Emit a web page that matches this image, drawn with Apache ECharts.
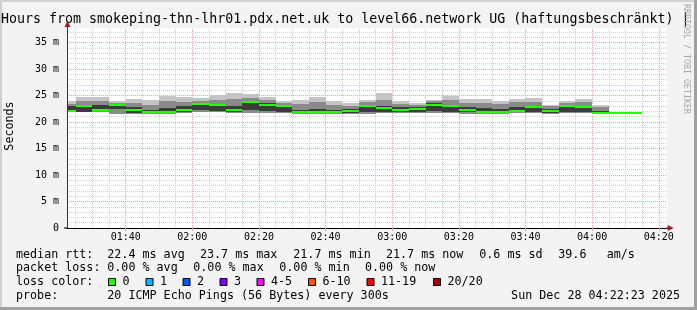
<!DOCTYPE html>
<html><head><meta charset="utf-8">
<script src="https://cdn.jsdelivr.net/npm/echarts@6/dist/echarts.min.js"></script>
<style>html,body{margin:0;padding:0;background:#f3f3f3;overflow:hidden}#c{width:697px;height:310px}</style>
</head><body><div id="c"></div><script>
// ---------- data ----------
const titleText = 'Hours from smokeping-thn-lhr01.pdx.net.uk to level66.network UG (haftungsbeschränkt) |';
const watermark = 'RRDTOOL / TOBI OETIKER';
const yName = 'Seconds';
// minutes since midnight
const xMin = 82 + 23 / 60;   // 01:22:23
const xMax = 262 + 23 / 60;  // 04:22:23
const yMax = 37.74;          // ms
const xTickValues = [100, 120, 140, 160, 180, 200, 220, 240, 260];
const xMinorGrid = [85, 90, 95, 105, 110, 115, 125, 130, 135, 145, 150, 155, 165, 170, 175, 185, 190, 195, 205, 210, 215, 225, 230, 235, 245, 250, 255];
const yTickValues = [0, 5, 10, 15, 20, 25, 30, 35];
const yMajorGrid = [5, 10, 15, 20, 25, 30, 35];
const yMinorGrid = [1, 2, 3, 4, 6, 7, 8, 9, 11, 12, 13, 14, 16, 17, 18, 19, 21, 22, 23, 24, 26, 27, 28, 29, 31, 32, 33, 34, 36, 37];

const stepMin = 5;
const segEnd = [85, 90, 95, 100, 105, 110, 115, 120, 125, 130, 135, 140, 145, 150, 155, 160, 165, 170, 175, 180, 185, 190, 195, 200, 205, 210, 215, 220, 225, 230, 235, 240, 245, 250, 255];
const medianMs = [22.0, 23.0, 22.2, 23.2, 22.2, 21.8, 21.8, 22.2, 23.4, 23.2, 22.2, 23.7, 23.2, 23.0, 21.8, 21.8, 21.8, 22.0, 23.0, 22.7, 22.2, 22.4, 23.2, 23.0, 22.2, 21.8, 21.8, 22.0, 22.8, 22.0, 23.0, 22.8, 21.7, 21.7, 21.7];
const smokeMin = [21.8, 21.8, 21.8, 21.6, 21.6, 21.6, 21.6, 21.7, 21.8, 21.8, 21.7, 21.7, 21.7, 21.7, 21.6, 21.6, 21.6, 21.6, 21.6, 21.7, 21.7, 21.7, 21.7, 21.7, 21.6, 21.6, 21.6, 21.7, 21.7, 21.6, 21.7, 21.7, 21.7, null, null];
const smokeQ1  = [22.0, 21.9, 22.0, 22.4, 21.7, 21.7, 21.7, 21.9, 22.2, 22.0, 21.9, 22.3, 22.0, 21.9, 21.7, 21.7, 21.7, 21.7, 21.9, 21.9, 21.8, 21.9, 22.0, 21.9, 21.8, 21.7, 21.7, 21.8, 21.9, 21.7, 21.9, 21.9, 21.7, null, null];
const smokeQ3  = [23.0, 23.2, 23.3, 23.3, 22.9, 22.3, 22.6, 23.0, 23.6, 23.4, 23.0, 23.9, 23.5, 23.2, 22.3, 22.5, 22.2, 22.4, 23.3, 23.0, 22.8, 22.9, 23.5, 23.3, 22.9, 22.6, 22.5, 22.8, 23.0, 22.4, 23.3, 23.1, 22.0, null, null];
const smokeP80 = [23.4, 24.0, 24.0, 23.6, 23.6, 23.2, 23.9, 23.8, 24.0, 24.2, 24.4, 24.6, 24.2, 23.6, 23.4, 23.8, 23.2, 23.0, 23.8, 24.2, 23.4, 23.3, 23.9, 24.2, 23.6, 23.6, 23.4, 23.8, 23.7, 23.0, 23.6, 23.8, 22.9, null, null];
const smokeMax = [24.0, 24.75, 24.75, 24.0, 24.3, 24.2, 24.9, 24.75, 24.6, 25.1, 25.5, 25.25, 24.75, 23.9, 24.2, 24.75, 23.9, 23.6, 24.2, 25.5, 23.9, 23.6, 24.2, 25.0, 24.25, 24.4, 23.9, 24.4, 24.6, 23.3, 23.9, 24.4, 23.3, null, null];

const rttHead = 'median rtt:';
const rttStats = ['22.4 ms avg', '23.7 ms max', '21.7 ms min', '21.7 ms now', '0.6 ms sd', '39.6', 'am/s'];
const lossHead = 'packet loss:';
const lossStats = ['0.00 % avg', '0.00 % max', '0.00 % min', '0.00 % now'];
const lossColorHead = 'loss color:';
const lossLabels = ['0', '1', '2', '3', '4-5', '6-10', '11-19', '20/20'];
const lossColors = ['#26ff00', '#00b8ff', '#0059ff', '#7e00ff', '#ff00ff', '#ff5500', '#ff0000', '#a10000'];
const probeHead = 'probe:';
const probeText = '20 ICMP Echo Pings (56 Bytes) every 300s';
const dateText = 'Sun Dec 28 04:22:23 2025';

// ---------- layout / style ----------
const MONO = 'DejaVu Sans Mono';
const legendFont = 11.7;
const rttX = [107.3, 200, 293.3, 386, 479.3, 558.3, 606.7];
const lossX = [107.3, 193.3, 279.3, 365];
const boxX = [108, 145.5, 182.5, 219.5, 256.5, 308, 366.5, 433];
const rowY = [254.5, 268, 282, 296];

function fmtTime(v) {
  const h = Math.floor(v / 60), m = Math.round(v % 60);
  return String(h).padStart(2, '0') + ':' + String(m).padStart(2, '0');
}

const smokeData = [];
const medianData = [];
segEnd.forEach((t, i) => {
  if (smokeMin[i] != null) smokeData.push([t - stepMin, t, smokeMin[i], smokeQ1[i], smokeQ3[i], smokeP80[i], smokeMax[i]]);
  medianData.push([t - stepMin, t, medianMs[i]]);
});

function xSpan(params, api) {
  const cs = params.coordSys;
  let xa = api.coord([api.value(0), 0])[0];
  let xb = api.coord([api.value(1), 0])[0];
  xa = Math.round(Math.max(xa, cs.x));
  xb = Math.round(Math.min(xb, cs.x + cs.width));
  return [xa, xb];
}
function renderSmoke(params, api) {
  const [xa, xb] = xSpan(params, api);
  const t = api.value(0);
  const band = (lo, hi, fill) => {
    const ya = Math.round(api.coord([t, hi])[1]);
    const yb = Math.round(api.coord([t, lo])[1]);
    return { type: 'rect', shape: { x: xa, y: ya, width: xb - xa, height: yb - ya }, style: { fill } };
  };
  return { type: 'group', children: [
    band(api.value(2), api.value(6), '#c4c4c4'),
    band(api.value(2), api.value(5), '#8a8a8a'),
    band(api.value(3), api.value(4), '#3c3c3c')
  ] };
}
function renderMedian(params, api) {
  const [xa, xb] = xSpan(params, api);
  const y = Math.round(api.coord([api.value(0), api.value(2)])[1]);
  return { type: 'rect', shape: { x: xa, y: y - 1, width: xb - xa, height: 2 }, style: { fill: lossColors[0] } };
}

const minorStyle = { color: '#d0d0d0', width: 1, type: [1, 1] };
const majorStyle = { color: '#f2a0a0', width: 1, type: [1, 1] };
const gridLines = []
  .concat(xMinorGrid.map(v => ({ xAxis: v, lineStyle: minorStyle })))
  .concat(yMinorGrid.map(v => ({ yAxis: v, lineStyle: minorStyle })))
  .concat(xTickValues.map(v => ({ xAxis: v, lineStyle: majorStyle })))
  .concat(yMajorGrid.map(v => ({ yAxis: v, lineStyle: majorStyle })));

const txt = (x, y, text, extra) => Object.assign({
  type: 'text', x, y, silent: true,
  style: Object.assign({ text, fill: '#000', font: legendFont + 'px "' + MONO + '"', verticalAlign: 'middle', align: 'left' }, extra || {})
});

const staticGraphics = [
  { type: 'rect', shape: { x: 0, y: 0, width: 697, height: 2 }, style: { fill: '#d0d0d0' }, silent: true },
  { type: 'rect', shape: { x: 0, y: 0, width: 2, height: 310 }, style: { fill: '#d0d0d0' }, silent: true },
  { type: 'rect', shape: { x: 0, y: 307, width: 697, height: 3 }, style: { fill: '#a0a0a0' }, silent: true },
  { type: 'rect', shape: { x: 694, y: 0, width: 3, height: 310 }, style: { fill: '#a0a0a0' }, silent: true },
  txt(1, 19.5, titleText, { font: '13.3px "' + MONO + '"' }),
  { type: 'text', x: 686, y: 4, rotation: -Math.PI / 2, silent: true,
    style: { text: watermark, fill: '#a8a8a8', font: '8.3px "' + MONO + '"', align: 'left', verticalAlign: 'middle' } },
  { type: 'text', x: 10, y: 126, rotation: Math.PI / 2, silent: true,
    style: { text: yName, fill: '#000', font: '11.7px "' + MONO + '"', align: 'center', verticalAlign: 'middle' } },
  txt(16, rowY[0], rttHead),
  txt(16, rowY[1], lossHead),
  txt(16, rowY[2], lossColorHead),
  txt(16, rowY[3], probeHead),
  txt(107.3, rowY[3], probeText),
  txt(680, rowY[3], dateText, { align: 'right' })
];
rttStats.forEach((s, i) => staticGraphics.push(txt(rttX[i], rowY[0], s)));
lossStats.forEach((s, i) => staticGraphics.push(txt(lossX[i], rowY[1], s)));
lossLabels.forEach((s, i) => {
  staticGraphics.push({ type: 'rect', silent: true, shape: { x: boxX[i] + 0.5, y: rowY[2] - 3.5, width: 7, height: 7 },
    style: { fill: lossColors[i], stroke: '#000', lineWidth: 1 } });
  staticGraphics.push(txt(boxX[i] + 14.5, rowY[2], s));
});

const chart = echarts.init(document.getElementById('c'), null, { renderer: 'canvas' });
const option = {
  animation: false,
  backgroundColor: '#f3f3f3',
  grid: { left: 67, right: 30.3, top: 28, bottom: 82, show: true, backgroundColor: '#ffffff', borderWidth: 0 },
  xAxis: {
    type: 'value', min: xMin, max: xMax,
    axisLine: { show: true, onZero: false, lineStyle: { color: '#000', width: 1 } },
    axisTick: { show: true, customValues: xTickValues, length: 3, inside: false, lineStyle: { color: '#f2a0a0' } },
    axisLabel: { customValues: xTickValues, formatter: fmtTime, margin: 4, color: '#000', fontFamily: MONO, fontSize: 10 },
    splitLine: { show: false }
  },
  yAxis: {
    type: 'value', min: 0, max: yMax,
    axisLine: { show: true, onZero: false, lineStyle: { color: '#333', width: 1, type: 'solid' } },
    axisTick: { show: false },
    axisLabel: { customValues: yTickValues, formatter: v => (v === 0 ? '0' : v + ' m'), margin: 8, color: '#000', fontFamily: MONO, fontSize: 10 },
    splitLine: { show: false }
  },
  series: [
    { type: 'line', data: [[xMin, 0]], symbol: 'none', lineStyle: { opacity: 0 }, silent: true, z: 1,
      markLine: { silent: true, symbol: ['none', 'none'], label: { show: false }, animation: false, z: 1, data: gridLines } },
    { type: 'custom', data: smokeData, renderItem: renderSmoke, clip: true, z: 10, silent: true },
    { type: 'custom', data: medianData, renderItem: renderMedian, clip: true, z: 11, silent: true }
  ],
  graphic: staticGraphics
};
chart.setOption(option);

// axis arrows, positioned through the chart's own scales
const pBL = chart.convertToPixel({ gridIndex: 0 }, [xMin, 0]);
const pTR = chart.convertToPixel({ gridIndex: 0 }, [xMax, yMax]);
const ARROW = '#9b1c1c';
const ax = Math.round(pBL[0]) + 0.5;
const arrowGraphics = [
  { type: 'line', silent: true, z: 20, shape: { x1: ax, y1: pBL[1], x2: ax, y2: pTR[1] - 2 }, style: { stroke: '#333', lineWidth: 1 } },
  { type: 'polygon', silent: true, shape: { points: [[ax - 3, pTR[1] - 1], [ax + 3, pTR[1] - 1], [ax, pTR[1] - 7]] }, style: { fill: ARROW } },
  { type: 'line', silent: true, shape: { x1: pTR[0], y1: pBL[1], x2: pTR[0] + 2, y2: pBL[1] }, style: { stroke: '#000', lineWidth: 1 } },
  { type: 'line', silent: true, shape: { x1: pBL[0] - 3, y1: pBL[1], x2: pBL[0], y2: pBL[1] }, style: { stroke: '#000', lineWidth: 1 } },
  { type: 'polygon', silent: true, shape: { points: [[pTR[0] + 1, pBL[1] - 3], [pTR[0] + 1, pBL[1] + 3], [pTR[0] + 7, pBL[1]]] }, style: { fill: ARROW } }
];
chart.setOption({ graphic: staticGraphics.concat(arrowGraphics) });
</script></body></html>
